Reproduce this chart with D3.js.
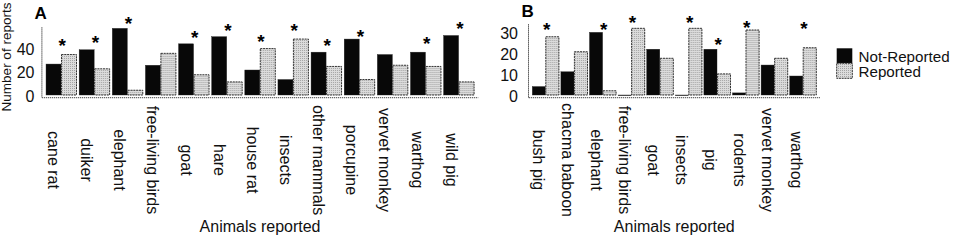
<!DOCTYPE html>
<html>
<head>
<meta charset="utf-8">
<script src="https://cdn.jsdelivr.net/npm/d3@7"></script>
<style>
  html, body { margin: 0; padding: 0; background: #fff; }
  svg { display: block; font-family: "Liberation Sans", Arial, sans-serif; }
</style>
</head>
<body>
<svg id="chart" width="957" height="240"></svg>
<script>
// ---------- data ----------
const seriesNames = ["Not-Reported", "Reported"];

const categoriesA = ["cane rat", "duiker", "elephant", "free-living birds", "goat", "hare",
  "house rat", "insects", "other mammals", "porcupine", "vervet monkey", "warthog", "wild pig"];
const notReportedA = [26, 38, 56, 25, 43, 49, 21, 13, 36, 47, 34, 36, 50];
const reportedA    = [34, 22, 4, 35, 17, 11, 39, 47, 24, 13, 25, 24, 11];
const starLevelA   = [45, 48, 64, null, 52, 58, 48.5, 58, 45, 53, null, 47, 59.5];
const ticksA = [0, 20, 40];

const categoriesB = ["bush pig", "chacma baboon", "elephant", "free-living birds", "goat",
  "insects", "pig", "rodents", "vervet monkey", "warthog"];
const notReportedB = [4, 11, 29.7, 0, 21.7, 0, 21.7, 1, 14.2, 9];
const reportedB    = [27.6, 20.5, 2, 31.6, 17.4, 31.6, 10, 30.8, 17.4, 22.4];
const starLevelB   = [33.2, null, 33.2, 36.4, null, 36.4, 26, 34, null, 33.6];
const ticksB = [0, 10, 20, 30];

const axisTitleX = "Animals reported";
const axisTitleY = "Number of reports";

// ---------- drawing ----------
const svg = d3.select("#chart");
const defs = svg.append("defs");
const pat = defs.append("pattern").attr("id", "dots").attr("patternUnits", "userSpaceOnUse")
  .attr("width", 2).attr("height", 2);
pat.append("rect").attr("width", 2).attr("height", 2).attr("fill", "#dcdcdc");
pat.append("rect").attr("width", 1).attr("height", 1).attr("fill", "#a4a4a4");

const fills = { "Not-Reported": "#080808", "Reported": "url(#dots)" };

function panel(cfg) {
  const g = svg.append("g");
  const x0 = d3.scaleBand().domain(cfg.categories).range(cfg.xRange)
    .paddingInner(cfg.padIn).paddingOuter(cfg.padOut);
  const x1 = d3.scaleBand().domain(seriesNames).range([0, x0.bandwidth()]).paddingInner(0.03);
  const y = d3.scaleLinear().domain([0, cfg.yMax]).range([cfg.y0, cfg.y0 - cfg.yMax * cfg.k]);

  const rows = cfg.categories.map((c, i) => ({
    cat: c, vals: [cfg.nr[i], cfg.r[i]], star: cfg.star[i]
  }));

  // axes lines
  const axisY = cfg.y0 + 2.7;
  g.append("line").attr("x1", cfg.xRange[0] - 2.5).attr("x2", cfg.xRange[1] + 3)
    .attr("y1", axisY).attr("y2", axisY)
    .attr("stroke", "#444").attr("stroke-width", 1.3).attr("stroke-dasharray", "1,1");
  g.append("line").attr("x1", cfg.xRange[0] - 2.8).attr("x2", cfg.xRange[0] - 2.8)
    .attr("y1", y(cfg.yMax)).attr("y2", axisY)
    .attr("stroke", "#555").attr("stroke-width", 1).attr("stroke-dasharray", "1.5,0.5");

  // y tick labels via axis
  const ay = d3.axisLeft(y).tickValues(cfg.ticks).tickSize(0).tickPadding(0);
  const yAxisG = g.append("g").attr("transform", `translate(${cfg.tickRight},1.5)`).call(ay);
  yAxisG.select(".domain").remove();
  yAxisG.selectAll("text").attr("font-size", 16).attr("font-family", "Liberation Sans, Arial, sans-serif")
    .attr("fill", "#111");

  // bars
  const grp = g.selectAll("g.grp").data(rows).join("g").attr("class", "grp")
    .attr("transform", d => `translate(${x0(d.cat)},0)`);
  grp.selectAll("rect").data(d => d.vals.map((v, j) => ({ key: seriesNames[j], v })))
    .join("rect")
    .attr("x", d => x1(d.key))
    .attr("width", x1.bandwidth())
    .attr("y", d => y(d.v))
    .attr("height", d => Math.max(0.6, cfg.y0 - y(d.v)))
    .attr("fill", d => fills[d.key])
    .attr("stroke", d => d.key === "Reported" ? "#333" : "#222")
    .attr("stroke-width", d => d.key === "Reported" ? 1 : 0.4)
    .attr("stroke-dasharray", d => d.key === "Reported" ? "2,0.8" : null);

  // stars
  g.selectAll("text.star").data(rows.filter(d => d.star != null)).join("text")
    .attr("class", "star")
    .attr("x", d => x0(d.cat) + x0.bandwidth() / 2 + 1)
    .attr("y", d => y(d.star) + 11)
    .attr("text-anchor", "middle")
    .attr("font-size", 19).attr("font-weight", "bold").attr("fill", "#000")
    .text("*");

  // category labels
  g.selectAll("text.cat").data(rows).join("text")
    .attr("class", "cat")
    .attr("transform", d => `translate(${x0(d.cat) + x1("Not-Reported") + x1.bandwidth() / 2},160) rotate(90)`)
    .attr("text-anchor", "middle").attr("dominant-baseline", "central")
    .attr("font-size", 16).attr("fill", "#111")
    .text(d => d.cat);

  // x title
  g.append("text").attr("x", (cfg.xRange[0] + cfg.xRange[1]) / 2).attr("y", 231.5)
    .attr("text-anchor", "middle").attr("font-size", 16).attr("fill", "#111").text(axisTitleX);

  // panel letter
  g.append("text").attr("x", cfg.letterX).attr("y", cfg.letterY)
    .attr("font-size", 17).attr("font-weight", "bold").attr("fill", "#000").text(cfg.letter);
}

panel({
  categories: categoriesA, nr: notReportedA, r: reportedA, star: starLevelA, ticks: ticksA,
  xRange: [44.7, 475.4], padIn: 0.08, padOut: 0.04, y0: 95, k: 1.19, yMax: 57,
  tickRight: 34.5, letter: "A", letterX: 34.5, letterY: 19
});
panel({
  categories: categoriesB, nr: notReportedB, r: reportedB, star: starLevelB, ticks: ticksB,
  xRange: [531.3, 817.3], padIn: 0.07, padOut: 0.035, y0: 95, k: 2.11, yMax: 33.6,
  tickRight: 518, letter: "B", letterX: 521.5, letterY: 17.3
});

// y axis title
svg.append("text").attr("transform", "translate(10.5,57) rotate(-90)")
  .attr("text-anchor", "middle").attr("font-size", 13.5).attr("fill", "#111").text(axisTitleY);

// legend
const leg = svg.append("g");
seriesNames.forEach((s, i) => {
  leg.append("rect").attr("x", 836.7).attr("y", 48.3 + i * 15).attr("width", 15.6).attr("height", 15)
    .attr("fill", fills[s])
    .attr("stroke", s === "Reported" ? "#333" : "none").attr("stroke-width", 1)
    .attr("stroke-dasharray", s === "Reported" ? "2,0.8" : null);
  leg.append("text").attr("x", 858.5).attr("y", 61.8 + i * 15.5)
    .attr("font-size", 15.2).attr("fill", "#111").text(s);
});
</script>
</body>
</html>
